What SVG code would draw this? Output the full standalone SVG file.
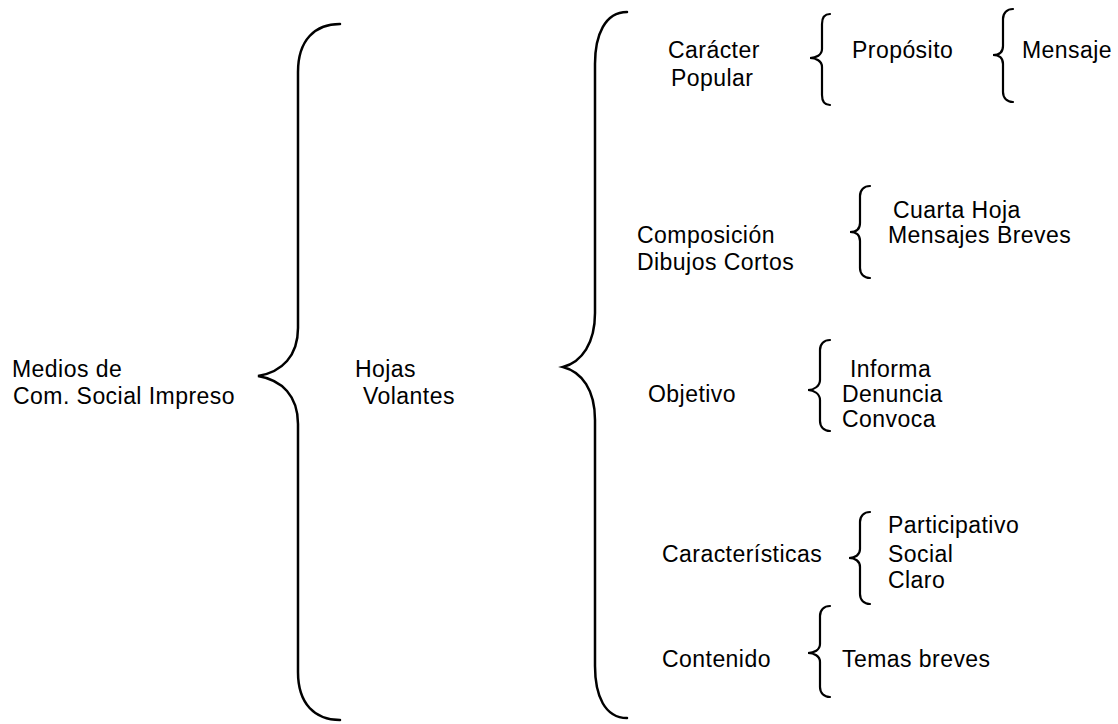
<svg xmlns="http://www.w3.org/2000/svg" width="1118" height="724" viewBox="0 0 1118 724">
<style>
text{font-family:"Liberation Sans",Arial,sans-serif;font-size:23px;letter-spacing:0.45px;fill:#000}
.br{fill:none;stroke:#000;stroke-width:2.5;stroke-linecap:round}
.bs{fill:none;stroke:#000;stroke-width:2.2;stroke-linecap:round}
</style>
<rect width="1118" height="724" fill="#fff"/>
<g id="connectors">
<path class="br" d="M340,24 C315,24 298,40 298,72 L298,328 C298,356 282,372 258,376 C282,380 298,396 298,424 L298,672 C298,704 315,720 340,720"/>
<path class="br" d="M627,12 C605,12 595,35 595,64 L595,313 C595,343 582,362 563,367 C582,372 595,390 595,420 L595,666 C595,696 605,718 627,718"/>
<path class="bs" d="M830,14 C824,14 822,18 822,24 L822,49 C822,55 816,58 810,58 C816,58 822,61 822,67 L822,95 C822,101 824,105 830,105"/>
<path class="bs" d="M1013,9 C1007,9 1003,13 1003,19 L1003,46 C1003,52 999,55 993,55 C999,55 1003,58 1003,64 L1003,92 C1003,98 1007,102 1013,102"/>
<path class="bs" d="M870,186 C864,186 860,190 860,196 L860,223 C860,229 856,232 850,232 C856,232 860,235 860,241 L860,268 C860,274 864,278 870,278"/>
<path class="bs" d="M830,340 C824,340 820,344 820,350 L820,380 C820,386 814,390 808,390 C814,390 820,394 820,400 L820,421 C820,427 824,431 830,431"/>
<path class="bs" d="M870,512 C864,512 860,516 860,522 L860,549 C860,555 855,558 849,558 C855,558 860,561 860,567 L860,594 C860,600 864,604 870,604"/>
<path class="bs" d="M830,606 C824,606 820,610 820,616 L820,644 C820,650 814,653 808,653 C814,653 820,656 820,662 L820,687 C820,693 824,697 830,697"/>
</g>
<g id="n-medios"><text x="12" y="377">Medios de</text><text x="13" y="404">Com. Social Impreso</text></g>
<g id="n-hojas"><text x="355" y="377">Hojas</text><text x="363" y="404">Volantes</text></g>
<g id="n-caracter"><text x="668" y="58">Carácter</text><text x="671" y="86">Popular</text></g>
<g id="n-proposito"><text x="852" y="58">Propósito</text></g>
<g id="n-mensaje"><text x="1022" y="58">Mensaje</text></g>
<g id="n-composicion"><text x="637" y="243">Composición</text><text x="637" y="270">Dibujos Cortos</text></g>
<g id="n-cuarta"><text x="893" y="218">Cuarta Hoja</text><text x="888" y="243">Mensajes Breves</text></g>
<g id="n-objetivo"><text x="648" y="402">Objetivo</text></g>
<g id="n-informa"><text x="850" y="377">Informa</text><text x="842" y="402">Denuncia</text><text x="842" y="427">Convoca</text></g>
<g id="n-caracteristicas"><text x="662" y="562">Características</text></g>
<g id="n-participativo"><text x="888" y="533">Participativo</text><text x="888" y="562">Social</text><text x="888" y="588">Claro</text></g>
<g id="n-contenido"><text x="662" y="667">Contenido</text></g>
<g id="n-temas"><text x="842" y="667">Temas breves</text></g>
</svg>
